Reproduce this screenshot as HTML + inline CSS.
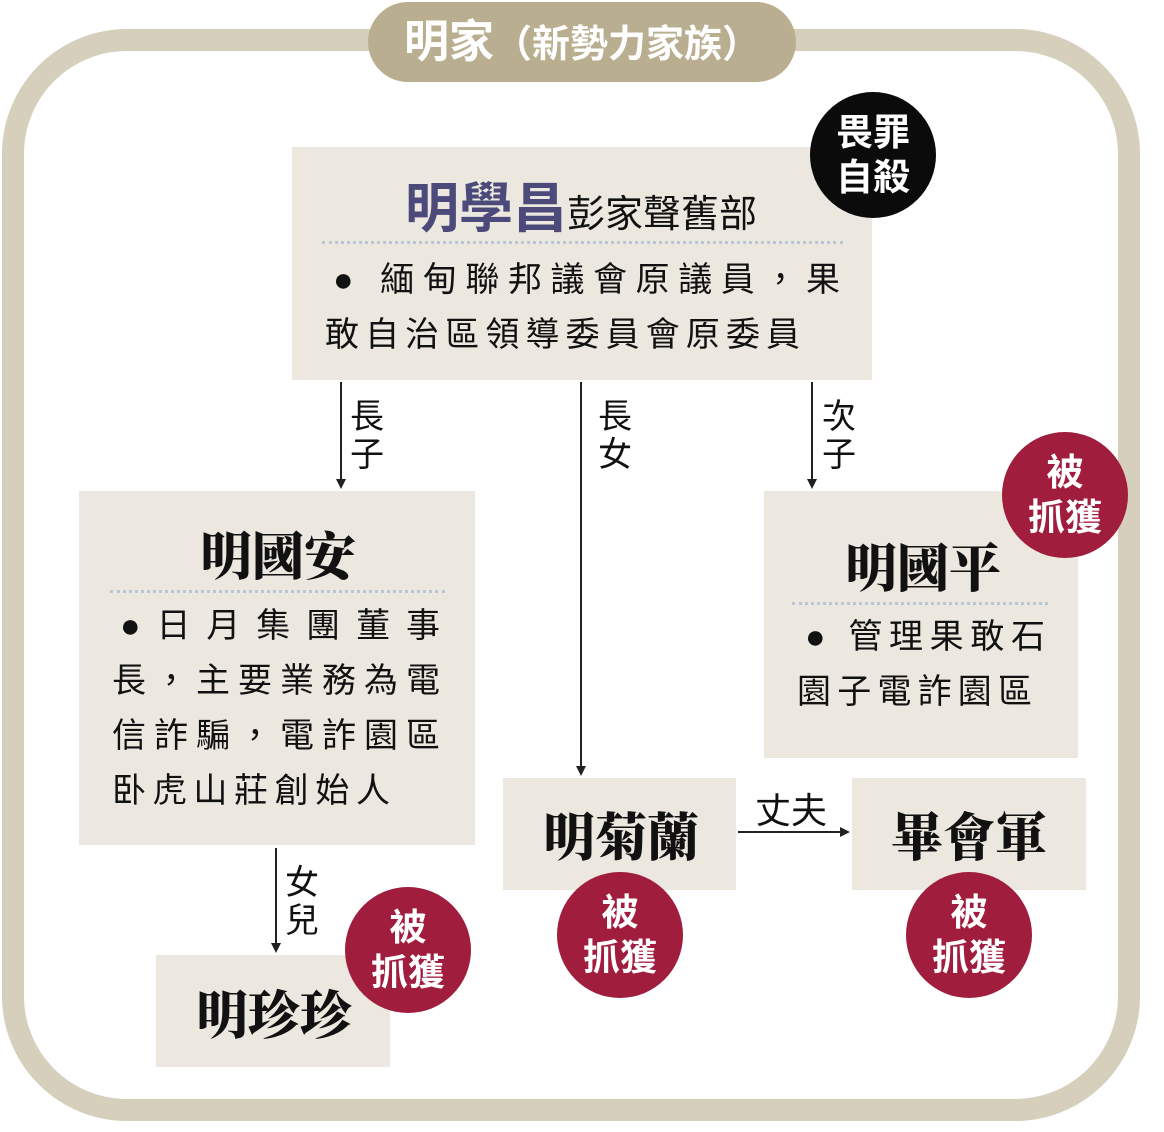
<!DOCTYPE html>
<html><head><meta charset="utf-8">
<style>
body{margin:0;width:1164px;height:1132px;background:#fff;position:relative;overflow:hidden;font-family:"Liberation Sans","Noto Sans CJK TC",sans-serif;color:#111}
.a{position:absolute}
.box{position:absolute;background:#ece8df}
.frame{left:2px;top:29px;width:1094px;height:1048px;border:22px solid #d6cfbc;border-radius:125px}
.pill{left:368px;top:2px;width:428px;height:80px;border-radius:40px;background:#b9ae90;color:#fff;font-weight:bold;text-align:center;line-height:80px;font-size:45px;white-space:nowrap}
.circ{position:absolute;width:126px;height:126px;border-radius:50%;color:#fff;font-weight:bold;font-size:37px;line-height:45px;text-align:center;display:flex;align-items:center;justify-content:center}
.red{background:#a01d3d}
.name{position:absolute;font-family:"Liberation Serif","Noto Serif CJK TC","Noto Serif CJK SC",serif;font-weight:900;font-size:52px;white-space:nowrap}
.dot{position:absolute;height:0;border-top:3px dotted #b9c6d6}
.ln{position:absolute;font-size:34px;white-space:nowrap;line-height:40px;text-align:justify;text-align-last:justify}
.vl{position:absolute;width:2px;background:#222}
.ah{position:absolute;width:0;height:0;border-left:5px solid transparent;border-right:5px solid transparent;border-top:10px solid #222}
.lab{position:absolute;font-size:34px;line-height:38px;width:40px}
</style></head><body>
<div class="a frame"></div>
<div class="a pill">明家<span style="font-size:38px">（新勢力家族）</span></div>

<div class="box" style="left:292px;top:147px;width:580px;height:233px"></div>
<div class="a" style="left:405px;top:164px;white-space:nowrap"><span style="font-size:54px;font-weight:bold;color:#4b4a7a">明學昌</span><span style="font-size:38px">彭家聲舊部</span></div>
<div class="dot" style="left:322px;top:241px;width:521px"></div>
<div class="ln" style="left:333px;top:260px;width:507px">●&nbsp;緬甸聯邦議會原議員，果</div>
<div class="ln" style="left:325px;top:315px;width:475px">敢自治區領導委員會原委員</div>
<div class="circ" style="left:810px;top:92px;background:#0b0b0b">畏罪<br>自殺</div>

<div class="vl" style="left:340px;top:382px;height:98px"></div><div class="ah" style="left:336px;top:479px"></div>
<div class="lab" style="left:350px;top:398px">長<br>子</div>
<div class="vl" style="left:580px;top:382px;height:385px"></div><div class="ah" style="left:576px;top:766px"></div>
<div class="lab" style="left:598px;top:398px">長<br>女</div>
<div class="vl" style="left:811px;top:382px;height:98px"></div><div class="ah" style="left:807px;top:479px"></div>
<div class="lab" style="left:822px;top:398px">次<br>子</div>

<div class="box" style="left:79px;top:491px;width:396px;height:354px"></div>
<div class="name" style="left:200px;top:515px">明國安</div>
<div class="dot" style="left:110px;top:590px;width:335px"></div>
<div class="ln" style="left:120px;top:606px;width:320px">● 日 月 集 團 董 事</div>
<div class="ln" style="left:112px;top:661px;width:328px">長，主要業務為電</div>
<div class="ln" style="left:112px;top:716px;width:328px">信詐騙，電詐園區</div>
<div class="ln" style="left:112px;top:771px;width:278px">卧虎山莊創始人</div>

<div class="box" style="left:764px;top:491px;width:314px;height:267px"></div>
<div class="name" style="left:845px;top:527px">明國平</div>
<div class="dot" style="left:792px;top:602px;width:256px"></div>
<div class="ln" style="left:805px;top:617px;width:240px">●&nbsp;管理果敢石</div>
<div class="ln" style="left:797px;top:672px;width:235px">園子電詐園區</div>
<div class="circ red" style="left:1002px;top:432px">被<br>抓獲</div>

<div class="box" style="left:503px;top:778px;width:233px;height:112px"></div>
<div class="name" style="left:543px;top:796px">明菊蘭</div>
<div class="a" style="left:738px;top:831px;width:104px;height:2px;background:#222"></div>
<div class="a" style="left:840px;top:827px;width:0;height:0;border-top:5px solid transparent;border-bottom:5px solid transparent;border-left:10px solid #222"></div>
<div class="a" style="left:755px;top:782px;font-size:36px;white-space:nowrap">丈夫</div>
<div class="box" style="left:852px;top:778px;width:234px;height:112px"></div>
<div class="name" style="left:891px;top:796px">畢會軍</div>
<div class="circ red" style="left:557px;top:872px">被<br>抓獲</div>
<div class="circ red" style="left:906px;top:872px">被<br>抓獲</div>

<div class="vl" style="left:275px;top:848px;height:96px"></div><div class="ah" style="left:271px;top:943px"></div>
<div class="lab" style="left:285px;top:864px">女<br>兒</div>
<div class="box" style="left:156px;top:955px;width:234px;height:112px"></div>
<div class="name" style="left:196px;top:974px">明珍珍</div>
<div class="circ red" style="left:345px;top:887px">被<br>抓獲</div>
</body></html>
